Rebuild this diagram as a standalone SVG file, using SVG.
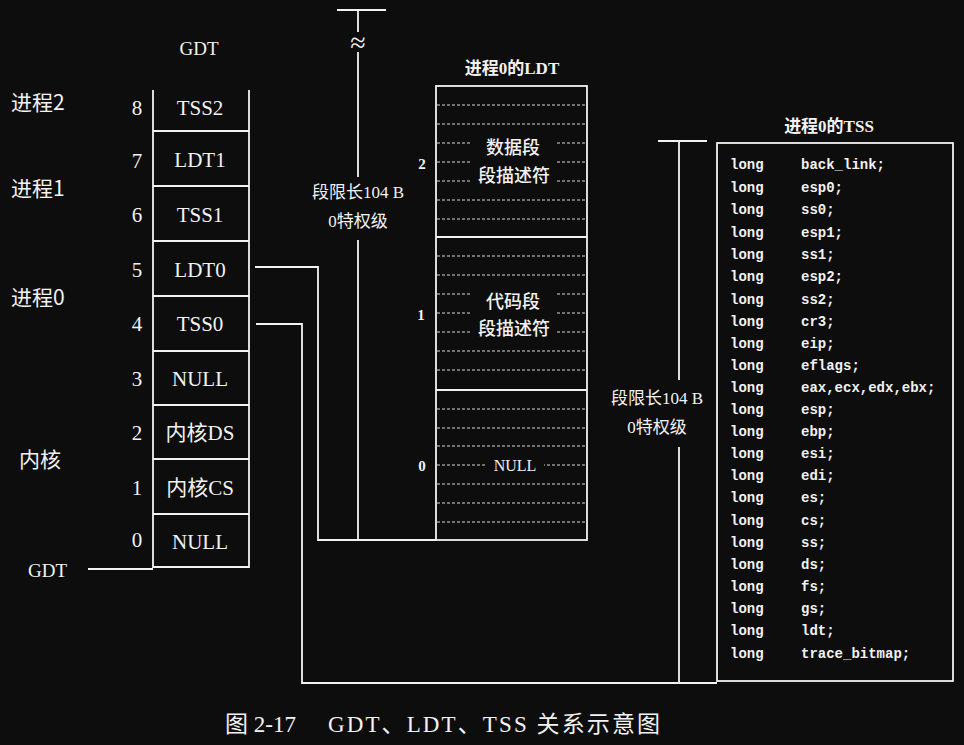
<svg xmlns="http://www.w3.org/2000/svg" width="964" height="745" viewBox="0 0 964 745">
<style>
.bg{fill:#0d0d0d}
.ln{stroke:#f2f2f2;stroke-width:1.8;fill:none}
.dl{stroke:#d8d8d8;stroke-width:1.2;stroke-dasharray:3 2;fill:none}
.mask{fill:#0d0d0d}
.t{fill:#f2f2f2;font-family:"Liberation Serif","Noto Sans CJK SC",serif;dominant-baseline:central}
.c{text-anchor:middle}
.cell{font-size:21px}
.idx{font-size:21px}
.side{font-size:21px;font-family:"Noto Sans CJK SC","Liberation Serif",sans-serif}
.ttl{font-size:17px;font-weight:bold}
.sm{font-size:15px}
.lim{font-size:17px}
.seg{font-size:18px;font-family:"Noto Sans CJK SC",sans-serif;font-weight:500}
.mono{fill:#f2f2f2;font-family:"Liberation Mono",monospace;font-size:14px;font-weight:bold;dominant-baseline:central}
.cap{fill:#f2f2f2;font-family:"Liberation Serif","Noto Sans CJK SC",serif;font-size:23px;dominant-baseline:central}
</style>
<rect class="bg" x="0" y="0" width="964" height="745"/>

<g id="side-labels">
<text class="t side" x="11" y="101">进程2</text>
<text class="t side" x="11" y="187">进程1</text>
<text class="t side" x="11" y="296">进程0</text>
<text class="t side" x="19" y="458">内核</text>
<text class="t" x="28" y="570" font-size="19">GDT</text>
</g>

<g id="gdt">
<text class="t c" x="199" y="48" font-size="19">GDT</text>
<path class="ln" d="M153 90V567H249V90M153 131H249M153 186H249M153 241H249M153 296H249M153 351H249M153 405H249M153 459H249M153 514H249"/>
<g class="t c cell">
<text x="200" y="108">TSS2</text>
<text x="200" y="160">LDT1</text>
<text x="200" y="215">TSS1</text>
<text x="200" y="270">LDT0</text>
<text x="200" y="324">TSS0</text>
<text x="200" y="379">NULL</text>
<text x="200" y="433">内核DS</text>
<text x="200" y="488">内核CS</text>
<text x="200" y="542">NULL</text>
</g>
<g class="t c idx">
<text x="137" y="108">8</text>
<text x="137" y="161">7</text>
<text x="137" y="215">6</text>
<text x="137" y="270">5</text>
<text x="137" y="324">4</text>
<text x="137" y="379">3</text>
<text x="137" y="433">2</text>
<text x="137" y="488">1</text>
<text x="137" y="540">0</text>
</g>
</g>

<g id="ldt">
<text class="t c ttl" x="512" y="68">进程0的LDT</text>
<rect class="ln" x="436" y="86" width="151" height="454"/>
<path class="ln" d="M436 237H587M436 390H587"/>
<path class="dl" d="M437 105H586M437 124H586M437 143H586M437 162H586M437 181H586M437 200H586M437 219H586M437 256H586M437 275H586M437 294H586M437 313H586M437 332H586M437 351H586M437 370H586M437 409H586M437 428H586M437 446H586M437 465H586M437 484H586M437 503H586M437 522H586"/>
<rect class="mask" x="472" y="136" width="84" height="47"/>
<rect class="mask" x="472" y="288" width="84" height="49"/>
<rect class="mask" x="487" y="456" width="57" height="18"/>
<text class="t c seg" x="513" y="146">数据段</text>
<text class="t c seg" x="514" y="174">段描述符</text>
<text class="t c seg" x="513" y="300">代码段</text>
<text class="t c seg" x="514" y="327">段描述符</text>
<text class="t c" x="515" y="465" font-size="16">NULL</text>
<text class="t c sm" x="422" y="164" font-weight="bold">2</text>
<text class="t c sm" x="421" y="315" font-weight="bold">1</text>
<text class="t c sm" x="422" y="466" font-weight="bold">0</text>
</g>

<g id="ldt-limit">
<path class="ln" d="M337 10H386M358 10V32M358 52V177M358 240V540"/>
<text class="t c" x="358" y="42" font-size="28">≈</text>
<text class="t c lim" x="358" y="192">段限长104 B</text>
<text class="t c lim" x="358" y="221">0特权级</text>
</g>

<g id="tss">
<text class="t c ttl" x="829" y="126">进程0的TSS</text>
<rect class="ln" x="717" y="143" width="236" height="538"/>
<g class="mono">
<text x="730" y="165">long</text><text x="801" y="165">back_link;</text>
<text x="730" y="188">long</text><text x="801" y="188">esp0;</text>
<text x="730" y="210">long</text><text x="801" y="210">ss0;</text>
<text x="730" y="233">long</text><text x="801" y="233">esp1;</text>
<text x="730" y="255">long</text><text x="801" y="255">ss1;</text>
<text x="730" y="277">long</text><text x="801" y="277">esp2;</text>
<text x="730" y="300">long</text><text x="801" y="300">ss2;</text>
<text x="730" y="322">long</text><text x="801" y="322">cr3;</text>
<text x="730" y="344">long</text><text x="801" y="344">eip;</text>
<text x="730" y="366">long</text><text x="801" y="366">eflags;</text>
<text x="730" y="388">long</text><text x="801" y="388">eax,ecx,edx,ebx;</text>
<text x="730" y="410">long</text><text x="801" y="410">esp;</text>
<text x="730" y="432">long</text><text x="801" y="432">ebp;</text>
<text x="730" y="454">long</text><text x="801" y="454">esi;</text>
<text x="730" y="476">long</text><text x="801" y="476">edi;</text>
<text x="730" y="498">long</text><text x="801" y="498">es;</text>
<text x="730" y="521">long</text><text x="801" y="521">cs;</text>
<text x="730" y="543">long</text><text x="801" y="543">ss;</text>
<text x="730" y="565">long</text><text x="801" y="565">ds;</text>
<text x="730" y="587">long</text><text x="801" y="587">fs;</text>
<text x="730" y="609">long</text><text x="801" y="609">gs;</text>
<text x="730" y="631">long</text><text x="801" y="631">ldt;</text>
<text x="730" y="654">long</text><text x="801" y="654">trace_bitmap;</text>
</g>
</g>

<g id="tss-limit">
<path class="ln" d="M658 141H707M679 141V380M679 447V683"/>
<text class="t c lim" x="657" y="398">段限长104 B</text>
<text class="t c lim" x="657" y="427">0特权级</text>
</g>

<g id="connectors">
<path class="ln" d="M88 569H153"/>
<path class="ln" d="M255 267H318V540H436"/>
<path class="ln" d="M256 324H302V683H717"/>
</g>

<g id="caption">
<text class="cap" x="225" y="724">图 2-17</text>
<text class="cap" x="328" y="724" textLength="332">GDT、LDT、TSS 关系示意图</text>
</g>
</svg>
